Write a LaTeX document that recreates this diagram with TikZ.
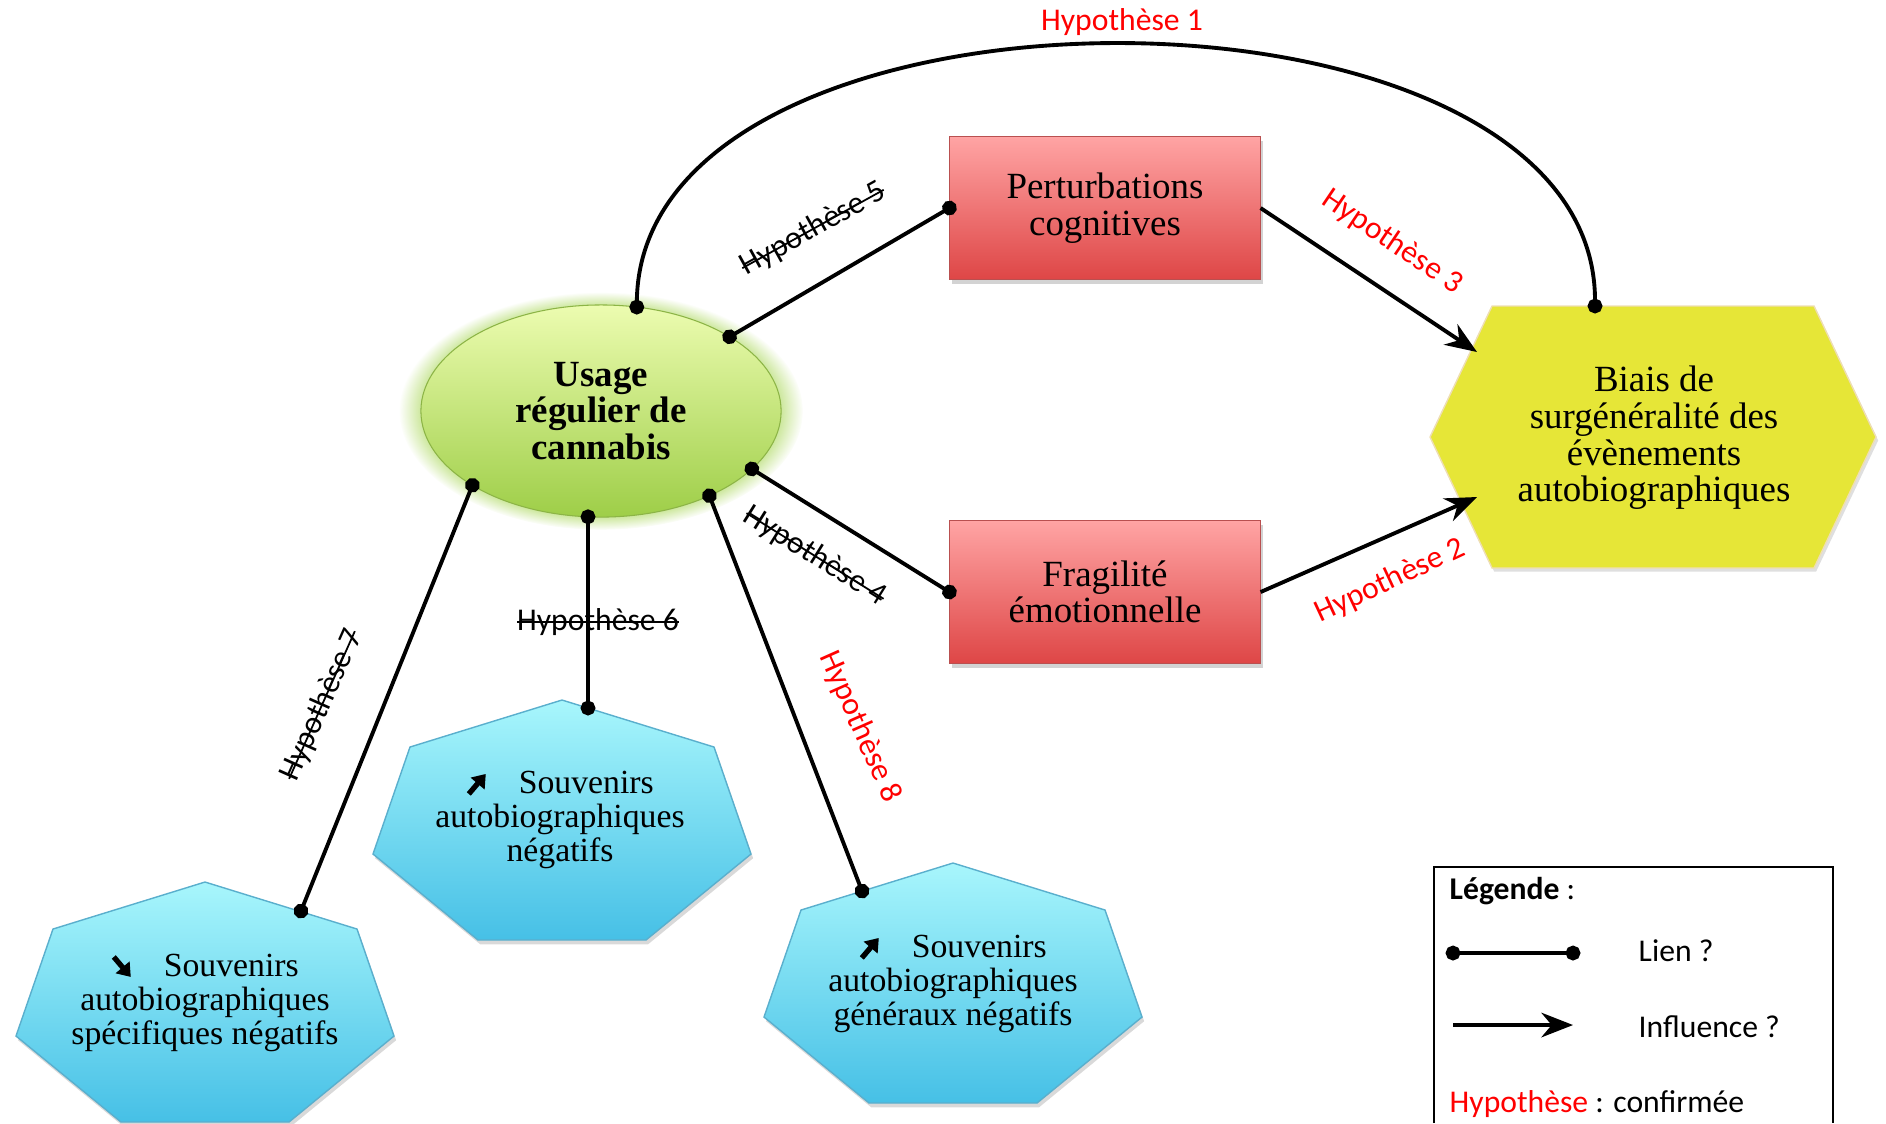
\documentclass[tikz,border=0pt]{standalone}
\usepackage{fontspec}
\setmainfont{Liberation Serif}
\newfontfamily\labelfont{Carlito}
\usetikzlibrary{arrows.meta,shapes.geometric,shadows}

\definecolor{usagetop}{RGB}{236,252,176}
\definecolor{usagebottom}{RGB}{158,206,72}
\definecolor{usageedge}{RGB}{140,180,70}
\definecolor{usageglow}{RGB}{170,215,90}
\definecolor{boxtop}{RGB}{255,164,164}
\definecolor{boxbottom}{RGB}{222,70,70}
\definecolor{boxedge}{RGB}{185,80,80}
\definecolor{biaisfill}{RGB}{230,230,55}
\definecolor{biaisedge}{RGB}{238,222,180}
\definecolor{hepttop}{RGB}{168,246,252}
\definecolor{heptbottom}{RGB}{70,192,230}
\definecolor{heptedge}{RGB}{90,175,205}

% texte barre
\newsavebox\barrebox
\newcommand{\barre}[1]{\sbox\barrebox{#1}\rlap{\rule[0.24em]{\wd\barrebox}{0.5pt}}\usebox\barrebox}
% petites fleches
\newcommand{\flechehaut}{\tikz[baseline=0pt]\draw[line width=1.5pt,-{Triangle[length=3.6pt,width=5pt]}] (0cm,0cm) -- (0.17cm,0.2cm);}
\newcommand{\flechebas}{\tikz[baseline=0pt]\draw[line width=1.5pt,-{Triangle[length=3.6pt,width=5pt]}] (0cm,0.2cm) -- (0.17cm,0cm);}

\begin{document}
\begin{tikzpicture}[x=0.01cm, y=-0.01cm,
    lien/.style={line width=1.1pt, {Circle[length=4.2pt]}-{Circle[length=4.2pt]},
      shorten <=-2.1pt, shorten >=-2.1pt},
    influence/.style={line width=1.1pt, -{Stealth[length=9pt,width=7pt]}},
    hyp/.style={font=\labelfont\fontsize{9}{10}\selectfont, inner sep=0pt},
    hypok/.style={hyp, text=red},
    usage/.style={ellipse, draw=usageedge, line width=0.3pt, top color=usagetop,
      bottom color=usagebottom, minimum width=3.6cm, minimum height=2.12cm,
      inner sep=0pt, outer sep=0pt, align=center,
      font=\bfseries\fontsize{10.5}{10.3}\selectfont,
      circular glow={shadow scale=1.12, fill=usageglow, opacity=0.8}},
    boite/.style={rectangle, draw=boxedge, line width=0.4pt, top color=boxtop,
      bottom color=boxbottom, minimum width=3.11cm, minimum height=1.43cm,
      outer sep=0pt, align=center, font=\fontsize{10.5}{10.4}\selectfont,
      drop shadow={opacity=0.35, shadow xshift=0.8pt, shadow yshift=-1.2pt}},
    biaisfond/.style={fill=biaisfill, draw=biaisedge, line width=0.4pt,
      drop shadow={opacity=0.25, shadow xshift=0.6pt, shadow yshift=-1pt}},
    biais/.style={align=center, font=\fontsize{10.5}{10.4}\selectfont},
    souv/.style={draw=heptedge, line width=0.4pt, top color=hepttop,
      bottom color=heptbottom,
      drop shadow={opacity=0.3, shadow xshift=0.6pt, shadow yshift=-1.2pt}},
    souvtexte/.style={align=center, font=\fontsize{9.6}{9.6}\selectfont},
    legende/.style={font=\labelfont\fontsize{9}{10}\selectfont, inner sep=0pt, anchor=west}
  ]
  \useasboundingbox (0,0) rectangle (1886,1123);

  % noeuds principaux
  \node[usage] (usage) at (601,411) {Usage\\régulier de\\cannabis};
  \node[boite] (pert) at (1105,208) {Perturbations\\cognitives};
  \node[boite] (frag) at (1105,592) {Fragilité\\émotionnelle};

  \path[biaisfond] (1430,437) -- (1492,306) -- (1814,306) -- (1876,437)
    -- (1814,568) -- (1492,568) -- cycle;
  \node[biais] (biais) at (1654,438)
    {Biais de\\surgénéralité des\\évènements\\autobiographiques};
  \coordinate (biais-h1) at (1595,306);
  \coordinate (biais-h3) at (1477,352);
  \coordinate (biais-h2) at (1477,497);

  % souvenirs
  \path[souv] (205,882) -- (357,929) -- (394,1036) -- (289,1122)
    -- (121,1122) -- (16,1036) -- (53,929) -- cycle;
  \node[souvtexte] (specif) at (205,1003)
    {\flechebas\hspace{0.9em}Souvenirs\\autobiographiques\\spécifiques négatifs};
  \coordinate (specif-h7) at (301,911);

  \path[souv] (562,700) -- (714,747) -- (751,854) -- (646,940)
    -- (478,940) -- (373,854) -- (410,747) -- cycle;
  \node[souvtexte] (negat) at (560,820)
    {\flechehaut\hspace{0.9em}Souvenirs\\autobiographiques\\négatifs};
  \coordinate (negat-h6) at (588,708);

  \path[souv] (953,863) -- (1105,910) -- (1142,1017) -- (1037,1103)
    -- (869,1103) -- (764,1017) -- (801,910) -- cycle;
  \node[souvtexte] (gener) at (953,984)
    {\flechehaut\hspace{0.9em}Souvenirs\\autobiographiques\\généraux négatifs};
  \coordinate (gener-h8) at (862,891);

  % liens et influences
  \draw[lien] (usage.71) .. controls (640,-43) and (1595,-43) .. (biais-h1);
  \draw[lien] (usage.30) -- (pert.west);
  \draw[lien] (usage.-21) -- (frag.west);
  \draw[influence] (pert.east) -- (biais-h3);
  \draw[influence] (frag.east) -- (biais-h2);
  \draw[lien] (usage.-97) -- (negat-h6);
  \draw[lien] (usage.-150) -- (specif-h7);
  \draw[lien] (usage.-38) -- (gener-h8);

  % hypotheses
  \node[hypok] (h1) at (1122,22) {Hypothèse 1};
  \node[hypok, rotate=25] (h2) at (1390,581) {Hypothèse 2};
  \node[hypok, rotate=-34] (h3) at (1392,242) {Hypothèse 3};
  \node[hyp, rotate=-32] (h4) at (815,556) {\barre{Hypothèse 4}};
  \node[hyp, rotate=29] (h5) at (813,229) {\barre{Hypothèse 5}};
  \node[hyp] (h6) at (598,622) {\barre{Hypothèse 6}};
  \node[hyp, rotate=66] (h7) at (322,705) {\barre{Hypothèse 7}};
  \node[hypok, rotate=-66] (h8) at (860,727) {Hypothèse 8};

  % legende
  \draw[line width=0.8pt] (1434,1123) -- (1434,867) -- (1833,867) -- (1833,1123);
  \node[legende] (legtitre) at (1449,891) {\textbf{Légende} :};
  \coordinate (lienA) at (1453,953);
  \coordinate (lienB) at (1573,953);
  \draw[lien] (lienA) -- (lienB);
  \node[legende] (legLien) at (1638,951) {Lien ?};
  \coordinate (inflA) at (1453,1025);
  \coordinate (inflB) at (1573,1025);
  \draw[influence] (inflA) -- (inflB);
  \node[legende] (legInfl) at (1638,1027) {Influence ?};
  \node[legende] (legHyp) at (1449,1104) {\textcolor{red}{Hypothèse} : confirmée};
\end{tikzpicture}
\end{document}
